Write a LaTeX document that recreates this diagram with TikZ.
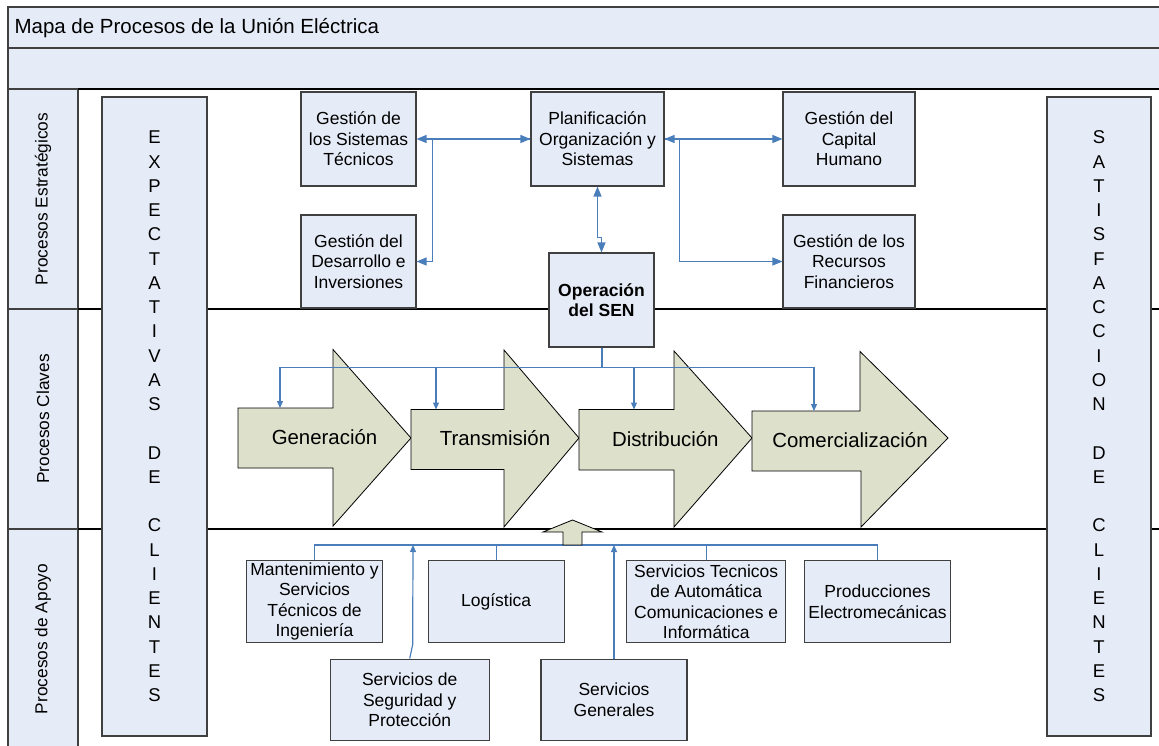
\documentclass[tikz,border=0pt]{standalone}
\usepackage{fontspec}
\setmainfont{Liberation Sans}
\usetikzlibrary{arrows.meta}
\definecolor{boxfill}{HTML}{E6ECF7}
\definecolor{chevfill}{HTML}{DDE0CB}
\definecolor{conn}{HTML}{4A7EBB}
\definecolor{edge}{HTML}{404040}
\tikzset{
  box/.style={draw=edge, line width=1.1pt, fill=boxfill, align=center, inner sep=0pt,
    font=\fontsize{17.5}{20.5}\selectfont},
  band/.style={draw=edge, line width=1.1pt, fill=boxfill},
  lanelabel/.style={rotate=90, font=\fontsize{17.3}{20}\selectfont},
  lettercol/.style={box, font=\fontsize{18.5}{24.25}\selectfont},
  chev/.style={draw=black, line width=0.8pt, fill=chevfill},
  chevtext/.style={anchor=base, font=\fontsize{20.4}{24}\selectfont},
  conn/.style={draw=conn, line width=1.2pt},
  bigtip/.style={arrows={-{Triangle[length=10pt,width=8pt]}}},
  bigtips/.style={arrows={{Triangle[length=10pt,width=8pt]}-{Triangle[length=10pt,width=8pt]}}},
  smalltip/.style={arrows={-{Triangle[length=7pt,width=6pt]}}},
  laneline/.style={draw=black, line width=1.1pt}
}
\begin{document}
\begin{tikzpicture}[x=1pt,y=-1pt]
\useasboundingbox (0,0) rectangle (1159,746);
\fill[white] (0,0) rectangle (1159,746);

% top bands
\draw[band] (8,7) rectangle (1175,48);
\draw[band] (8,48) rectangle (1175,89);
\node[anchor=base west, font=\fontsize{20.5}{24}\selectfont] (title) at (11,34) {Mapa de Procesos de la Unión Eléctrica};

% lane label cells
\draw[band] (8,89) rectangle (78,309);
\draw[band] (8,309) rectangle (78,529);
\draw[band] (8,529) rectangle (78,760);
\node[lanelabel] (l1) at (43,199) {Procesos Estratégicos};
\node[lanelabel] (l2) at (43,419) {Procesos Claves};
\node[lanelabel] (l3) at (43,639) {Procesos de Apoyo};

% lane separators
\draw[laneline] (78,89) -- (1175,89);
\draw[laneline] (78,309) -- (1175,309);
\draw[laneline] (78,529) -- (1175,529);

% side columns
\node[lettercol, minimum width=105pt, minimum height=639pt] (expect) at (154.5,416.5)
 {E\\X\\P\\E\\C\\T\\A\\T\\I\\V\\A\\S\\[24.25pt]D\\E\\[24.25pt]C\\L\\I\\E\\N\\T\\E\\S};
\node[lettercol, minimum width=104pt, minimum height=639pt] (satis) at (1099,416.5)
 {S\\A\\T\\I\\S\\F\\A\\C\\C\\I\\O\\N\\[24.25pt]D\\E\\[24.25pt]C\\L\\I\\E\\N\\T\\E\\S};

% strategic boxes
\node[box, minimum width=115pt, minimum height=94pt] (gst) at (358.5,139) {Gestión de\\los Sistemas\\Técnicos};
\node[box, minimum width=115pt, minimum height=93pt] (desa) at (358.5,261.5) {Gestión del\\Desarrollo e\\Inversiones};
\node[box, minimum width=133pt, minimum height=94pt] (plan) at (597.5,139) {Planificación\\Organización y\\Sistemas};
\node[box, minimum width=132pt, minimum height=94pt] (cap) at (849,139) {Gestión del\\Capital\\Humano};
\node[box, minimum width=132pt, minimum height=93pt] (rec) at (849,261.5) {Gestión de los\\Recursos\\Financieros};
\node[box, minimum width=105pt, minimum height=94pt, font=\fontsize{17.5}{20}\selectfont\bfseries] (op) at (601.5,300) {Operación\\del SEN};

% strategic connectors
\draw[conn, bigtips] (plan.west) -- (gst.east);
\draw[conn, bigtip] (plan.west) -| ([xshift=16pt]desa.east) -- (desa.east);
\draw[conn, bigtips] (plan.east) -- (cap.west);
\draw[conn, bigtip] (plan.east) -| ([xshift=-103pt]rec.west) -- (rec.west);
\draw[conn, bigtips] (plan.south) -- ++(0,51) -| (op.north);

% key process chevrons
\draw[chev] (238,408) -- (333,408) -- (333,349.5) -- (411,438) -- (333,526) -- (333,468) -- (238,468) -- cycle;
\draw[chev] (411,409.5) -- (504,409.5) -- (504,350) -- (579,438) -- (504,527) -- (504,469.5) -- (411,469.5) -- cycle;
\draw[chev] (579,409.5) -- (674,409.5) -- (674,351) -- (752,438) -- (674,527) -- (674,470) -- (579,470) -- cycle;
\draw[chev] (752,411) -- (860,411) -- (860,351.5) -- (948,438) -- (861,527) -- (861,471) -- (752,471) -- cycle;
\node[chevtext] (gen) at (324.5,444.5) {Generación};
\node[chevtext] (tra) at (495,445.3) {Transmisión};
\node[chevtext] (dis) at (665.3,446) {Distribución};
\node[chevtext] (com) at (850,447) {Comercialización};

\coordinate (c1) at (280,408);
\coordinate (c2) at (436,409.5);
\coordinate (c3) at (634,409.5);
\coordinate (c4) at (814,411);
\draw[conn, smalltip] (op.south) -- ++(0,20) -| (c1);
\draw[conn, smalltip] (op.south) -- ++(0,20) -| (c2);
\draw[conn, smalltip] (op.south) -- ++(0,20) -| (c3);
\draw[conn, smalltip] (op.south) -- ++(0,20) -| (c4);
\draw[conn, line width=2pt] (op.south) -- ++(0,20);

% support boxes
\node[box, minimum width=136pt, minimum height=82pt] (mant) at (314.5,601.7) {Mantenimiento y\\Servicios\\Técnicos de\\Ingeniería};
\node[box, minimum width=136pt, minimum height=82pt] (logi) at (496.2,601.7) {Logística};
\node[box, minimum width=159pt, minimum height=82pt] (stec) at (706.2,601.7) {Servicios Tecnicos\\de Automática\\Comunicaciones e\\Informática};
\node[box, minimum width=146.4pt, minimum height=82pt] (prod) at (877.5,601.7) {Producciones\\Electromecánicas};
\node[box, minimum width=159.3pt, minimum height=81.7pt] (seg) at (409.7,699.9) {Servicios de\\Seguridad y\\Protección};
\node[box, minimum width=146pt, minimum height=81.7pt] (sgen) at (614,699.9) {Servicios\\Generales};

% support connectors
\coordinate (upa) at (572.5,545);
\coordinate (b1) at (413,545);
\draw[conn] (mant.north) |- (upa);
\draw[conn] (logi.north) |- (upa);
\draw[conn] (stec.north) |- (upa);
\draw[conn] (prod.north) |- (upa);
\draw[conn, smalltip] (seg.north) -- ++(3,-14) -- (b1);
\draw[conn, smalltip] (sgen.north) -- (sgen.north |- upa);

% support-to-key arrow
\draw[chev] (563,545) -- (563,532) -- (543,532) -- (572.5,520) -- (602,532) -- (582,532) -- (582,545) -- cycle;
\end{tikzpicture}
\end{document}
